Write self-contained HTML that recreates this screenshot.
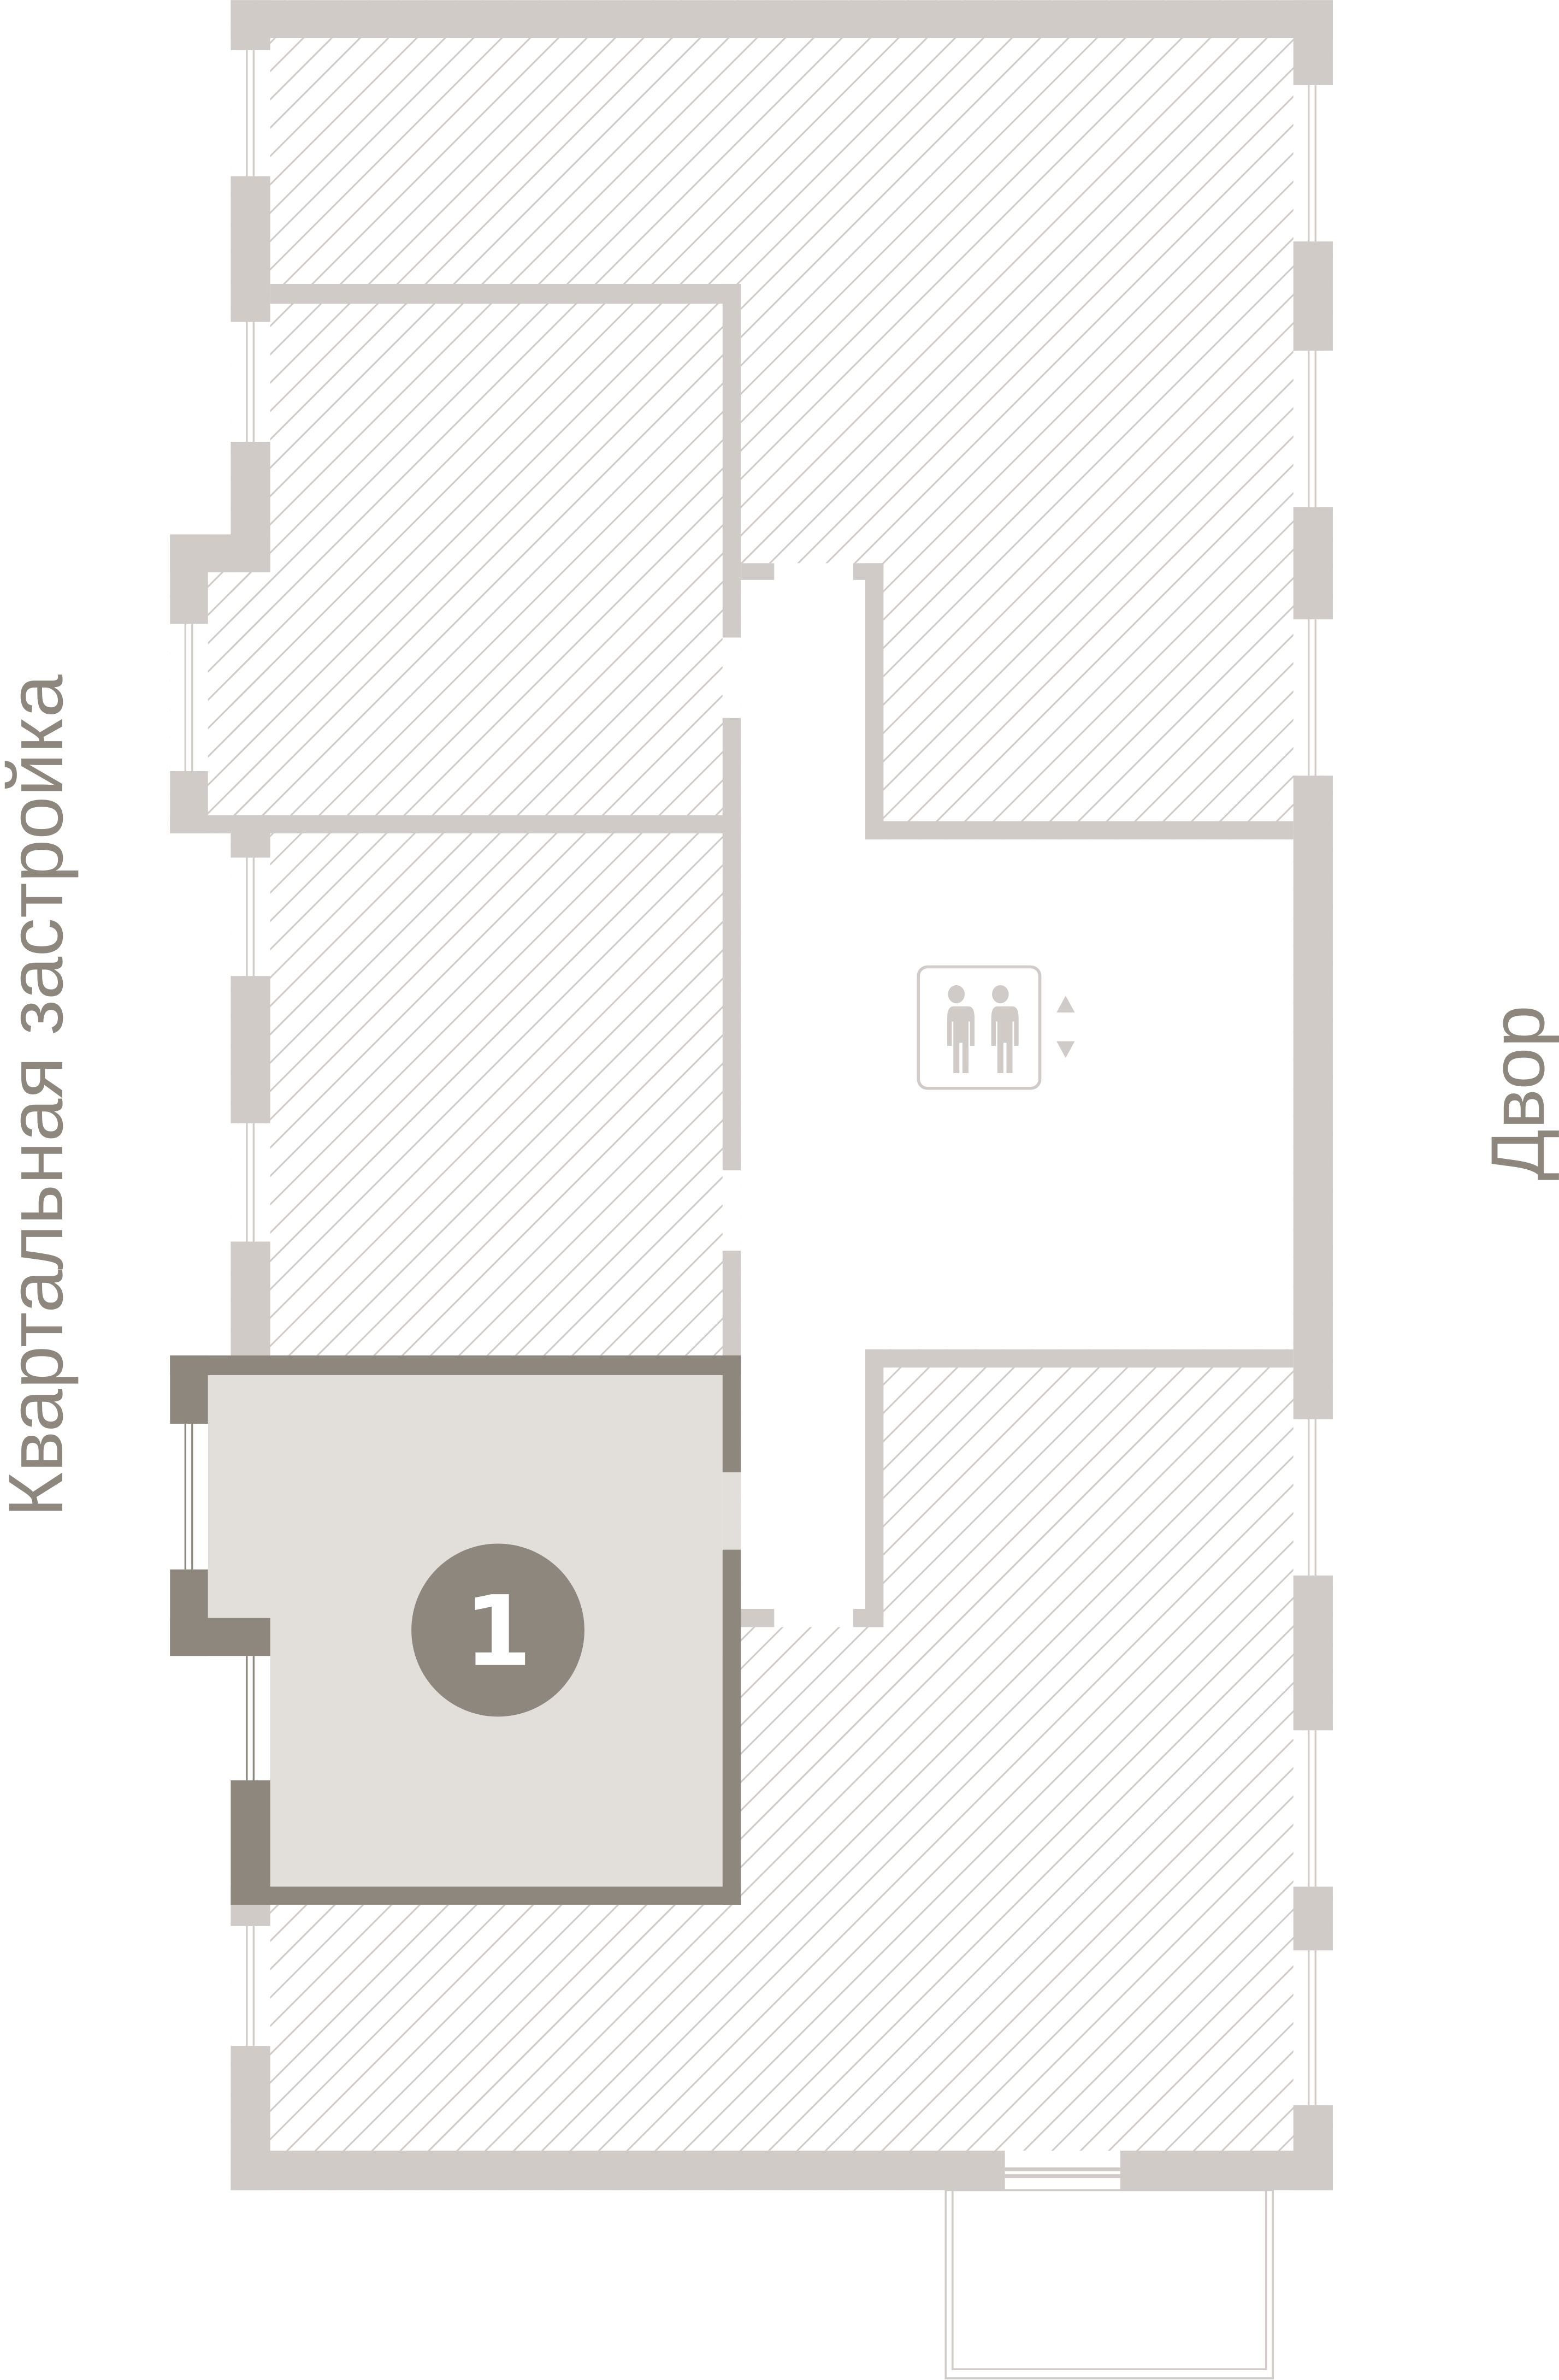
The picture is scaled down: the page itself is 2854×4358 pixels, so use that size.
<!DOCTYPE html>
<html><head><meta charset="utf-8"><style>
html,body{margin:0;padding:0;background:#fff;}
svg{display:block;}
</style></head><body>
<svg width="2854" height="4358" viewBox="0 0 1027 1568" xmlns="http://www.w3.org/2000/svg">
<defs>
<pattern id="h" patternUnits="userSpaceOnUse" width="13.2" height="13.2" patternTransform="rotate(45)">
<rect x="0" y="0" width="1.1" height="13.2" fill="#d0cbc6"/>
</pattern>
</defs>
<rect width="1027" height="1568" fill="#fff"/>
<!-- hatch areas -->
<rect x="152" y="0" width="726" height="1443" fill="url(#h)"/>
<rect x="112" y="352" width="66" height="197" fill="url(#h)"/>
<!-- windows: white + double lines -->
<g fill="#fff">
<rect x="152" y="33" width="26" height="83"/>
<rect x="152" y="212" width="26" height="79"/>
<rect x="152" y="565" width="26" height="78"/>
<rect x="152" y="740" width="26" height="78"/>
<rect x="152" y="1269" width="26" height="79"/>
<rect x="112" y="411" width="25" height="97"/>
<rect x="852" y="56" width="26" height="103"/>
<rect x="852" y="231" width="26" height="103"/>
<rect x="852" y="408" width="26" height="103"/>
<rect x="852" y="935" width="26" height="103"/>
<rect x="852" y="1140" width="26" height="103"/>
<rect x="852" y="1285" width="26" height="102"/>
<rect x="662" y="1417" width="76" height="26"/>
</g>
<g fill="#d0cbc6">
<rect x="162" y="33" width="1.2" height="83"/><rect x="166.5" y="33" width="1.2" height="83"/>
<rect x="162" y="212" width="1.2" height="79"/><rect x="166.5" y="212" width="1.2" height="79"/>
<rect x="162" y="565" width="1.2" height="78"/><rect x="166.5" y="565" width="1.2" height="78"/>
<rect x="162" y="740" width="1.2" height="78"/><rect x="166.5" y="740" width="1.2" height="78"/>
<rect x="162" y="1269" width="1.2" height="79"/><rect x="166.5" y="1269" width="1.2" height="79"/>
<rect x="121.5" y="411" width="1.2" height="97"/><rect x="126" y="411" width="1.2" height="97"/>
<rect x="861.5" y="56" width="1.2" height="103"/><rect x="866" y="56" width="1.2" height="103"/>
<rect x="861.5" y="231" width="1.2" height="103"/><rect x="866" y="231" width="1.2" height="103"/>
<rect x="861.5" y="408" width="1.2" height="103"/><rect x="866" y="408" width="1.2" height="103"/>
<rect x="861.5" y="935" width="1.2" height="103"/><rect x="866" y="935" width="1.2" height="103"/>
<rect x="861.5" y="1140" width="1.2" height="103"/><rect x="866" y="1140" width="1.2" height="103"/>
<rect x="861.5" y="1285" width="1.2" height="102"/><rect x="866" y="1285" width="1.2" height="102"/>
</g>
<!-- corridor / lobby -->
<rect x="488" y="371" width="82" height="701" fill="#fff"/>
<rect x="570" y="553" width="282" height="336" fill="#fff"/>
<rect x="476" y="420" width="12" height="53" fill="#fff"/>
<rect x="476" y="771" width="12" height="53" fill="#fff"/>

<g fill="#d0cbc6">
<!-- outer walls -->
<rect x="152" y="0" width="726" height="25"/>
<rect x="152" y="1417" width="510" height="26"/>
<rect x="738" y="1417" width="140" height="26"/>
<rect x="662" y="1428" width="76" height="2.5"/>
<rect x="662" y="1432.5" width="76" height="2.5"/>
<!-- left wall segments -->
<rect x="152" y="0" width="26" height="33"/>
<rect x="152" y="116" width="26" height="96"/>
<rect x="152" y="291" width="26" height="86"/>
<rect x="112" y="352" width="66" height="25"/>
<rect x="112" y="352" width="25" height="59"/>
<rect x="112" y="508" width="25" height="41"/>
<rect x="112" y="537" width="376" height="12"/>
<rect x="152" y="537" width="26" height="28"/>
<rect x="152" y="643" width="26" height="97"/>
<rect x="152" y="818" width="26" height="80"/>
<rect x="152" y="1250" width="26" height="19"/>
<rect x="152" y="1348" width="26" height="95"/>
<!-- right wall segments -->
<rect x="852" y="0" width="26" height="56"/>
<rect x="852" y="159" width="26" height="72"/>
<rect x="852" y="334" width="26" height="74"/>
<rect x="852" y="511" width="26" height="424"/>
<rect x="852" y="1038" width="26" height="102"/>
<rect x="852" y="1243" width="26" height="42"/>
<rect x="852" y="1387" width="26" height="56"/>
<!-- interior -->
<rect x="178" y="187" width="310" height="13"/>
<rect x="476" y="187" width="12" height="233"/>
<rect x="476" y="473" width="12" height="298"/>
<rect x="476" y="824" width="12" height="74"/>
<rect x="488" y="371" width="22" height="11"/>
<rect x="562" y="371" width="20" height="11"/>
<rect x="570" y="371" width="12" height="182"/>
<rect x="570" y="541" width="282" height="12"/>
<rect x="570" y="889" width="282" height="12"/>
<rect x="570" y="889" width="12" height="183"/>
<rect x="562" y="1060" width="20" height="12"/>
<rect x="488" y="1060" width="22" height="12"/>
</g>
<!-- balcony -->
<rect x="623" y="1443" width="215.5" height="124" fill="none" stroke="#d0cbc6" stroke-width="1.3"/>
<rect x="627.5" y="1443" width="206.5" height="118" fill="none" stroke="#d0cbc6" stroke-width="1.3"/>

<!-- apartment 1 -->
<rect x="112" y="893" width="376" height="362" fill="#fff"/>
<rect x="137" y="906" width="339" height="337" fill="#e2dfdb"/>
<rect x="112" y="938" width="25" height="96" fill="#fff"/>
<rect x="112" y="1091" width="66" height="164" fill="#fff"/>
<rect x="178" y="1091" width="298" height="152" fill="#e2dfdb"/>
<rect x="476" y="970" width="12" height="51" fill="#e2dfdb"/>
<g fill="#8e877d">
<rect x="112" y="893" width="376" height="13"/>
<rect x="112" y="893" width="25" height="45"/>
<rect x="121.5" y="938" width="1.2" height="96"/>
<rect x="126" y="938" width="1.2" height="96"/>
<rect x="112" y="1034" width="25" height="57"/>
<rect x="112" y="1066" width="66" height="25"/>
<rect x="162" y="1091" width="1.2" height="82"/>
<rect x="166.5" y="1091" width="1.2" height="82"/>
<rect x="152" y="1173" width="26" height="82"/>
<rect x="152" y="1243" width="336" height="12"/>
<rect x="476" y="893" width="12" height="77"/>
<rect x="476" y="1021" width="12" height="234"/>
</g>
<circle cx="328" cy="1074" r="57" fill="#8e877d"/>
<text x="328" y="1097" text-anchor="middle" font-family="DejaVu Sans, sans-serif" font-weight="bold" font-size="64" fill="#fff">1</text>

<!-- elevator icon -->
<g fill="#d0cbc6">
<rect x="605" y="637" width="80" height="80" rx="6" fill="none" stroke="#d0cbc6" stroke-width="2"/>
<ellipse cx="630" cy="655" rx="5.5" ry="6"/>
<ellipse cx="659" cy="655" rx="5.5" ry="6"/>
<path d="M622 663 h16 q4 0 4 8 v18 h-3 v-16 h-1 v34 h-4 v-20 h-2 v20 h-4 v-34 h-1 v16 h-3 v-18 q0 -8 4 -8z"/>
<path d="M651 663 h16 q4 0 4 8 v18 h-3 v-16 h-1 v34 h-4 v-20 h-2 v20 h-4 v-34 h-1 v16 h-3 v-18 q0 -8 4 -8z"/>
<path d="M702 656 l6 11 h-12 z"/>
<path d="M696 686 h12 l-6 11 z"/>
</g>

<!-- labels -->
<text transform="translate(41,722) rotate(-90)" text-anchor="middle" font-family="Liberation Sans, sans-serif" font-size="51" fill="#8e877d">Квартальная застройка</text>
<text transform="translate(1017,720) rotate(-90)" text-anchor="middle" font-family="Liberation Sans, sans-serif" font-size="50" fill="#8e877d">Двор</text>
</svg>
</body></html>
